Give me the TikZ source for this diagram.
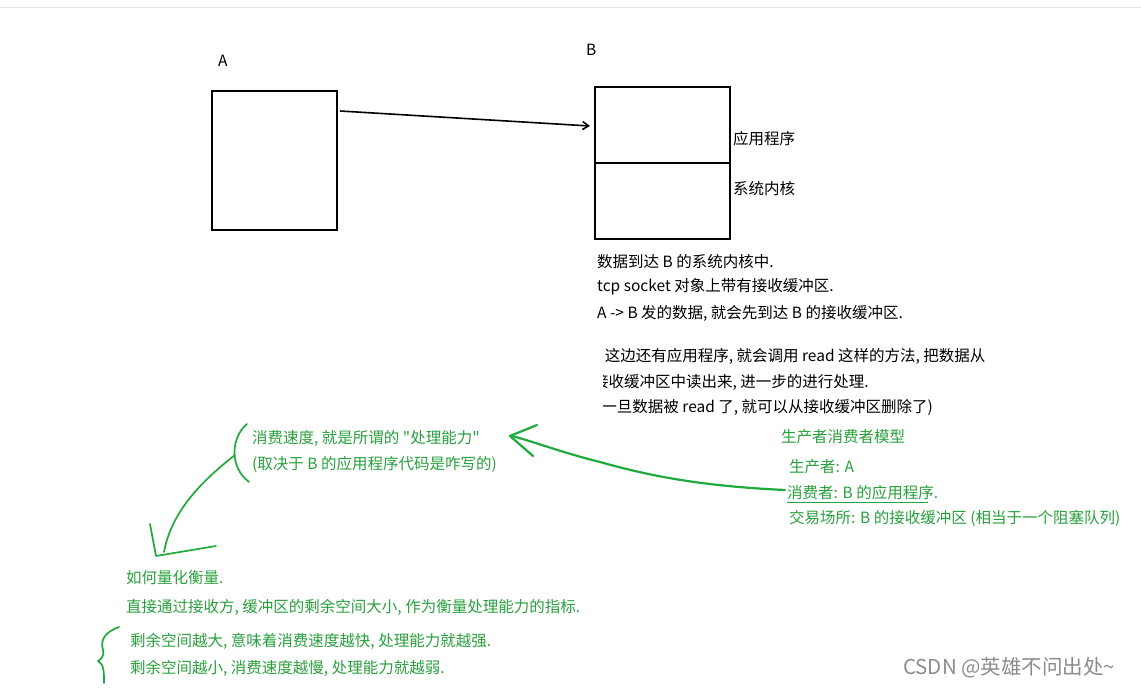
\documentclass[tikz,border=0pt]{standalone}
\usepackage{fontspec}
\setmainfont{Noto Sans CJK SC}
\usetikzlibrary{arrows.meta}
\definecolor{gr}{RGB}{30,170,60}
\definecolor{gt}{RGB}{40,160,60}
\tikzset{
 box/.style={draw,line width=1.6pt},
 bt/.style={anchor=west,inner sep=0,font=\fontsize{15.5}{17}\selectfont},
 gtx/.style={bt,text=gt},
 hand/.style={draw=gr,line width=1.7pt,line cap=round,line join=round},
}
\begin{document}
\begin{tikzpicture}[x=1pt,y=-1pt]
\useasboundingbox (0,0) rectangle (1141,690);
\draw[black!10] (0,7)--(1141,7);
\node[bt] (la) at (218,61) {A};
\node[bt] (lb) at (586,50) {B};
\node[box,minimum width=125pt,minimum height=139pt,anchor=north west] (A) at (211,90) {};
\node[box,minimum width=135pt,minimum height=76pt,anchor=north west] (B1) at (594,86) {};
\node[box,minimum width=135pt,minimum height=76pt,anchor=north west] (B2) at (594,162) {};
\coordinate (s) at (340,111);
\coordinate (e) at (590,126);
\draw[line width=1.6pt,-{Straight Barb[length=6pt,width=8pt]}] (s) -- (e);
\node[bt] (app) at (733,139) {应用程序};
\node[bt] (ker) at (733,189) {系统内核};
\node[bt] (t1) at (597,262) {数据到达 B 的系统内核中.};
\node[bt] (t2) at (597,287) {tcp socket 对象上带有接收缓冲区.};
\node[bt] (t3) at (597,313) {A -> B 发的数据, 就会先到达 B 的接收缓冲区.};
\begin{scope}
\clip (603,340) rectangle (1000,420);
\node[bt] (t4) at (591,356) {B 这边还有应用程序, 就会调用 read 这样的方法, 把数据从};
\node[bt] (t5) at (593,382) {接收缓冲区中读出来, 进一步的进行处理.};
\node[bt] (t6) at (596,407) {(一旦数据被 read 了, 就可以从接收缓冲区删除了)};
\end{scope}
\node[gtx] (g1) at (252,438) {消费速度, 就是所谓的 \textquotedbl 处理能力\textquotedbl};
\node[gtx] (g2) at (252,464) {(取决于 B 的应用程序代码是咋写的)};
\node[gtx] (p0) at (781,437) {生产者消费者模型};
\node[gtx] (p1) at (789,467) {生产者: A};
\node[gtx] (p2) at (787,493) {消费者: B 的应用程序.};
\node[gtx] (p3) at (789,518) {交易场所: B 的接收缓冲区 (相当于一个阻塞队列)};
\draw[gt,line width=0.8pt] (787,502)--(928,502);
\node[gtx] (q1) at (126,578) {如何量化衡量.};
\node[gtx] (q2) at (126,607) {直接通过接收方, 缓冲区的剩余空间大小, 作为衡量处理能力的指标.};
\node[gtx] (q3) at (130,641) {剩余空间越大, 意味着消费速度越快, 处理能力就越强.};
\node[gtx] (q4) at (130,668) {剩余空间越小, 消费速度越慢, 处理能力就越弱.};
\node[bt,text=black!45,font=\fontsize{20.5}{22}\selectfont] (wm) at (903,668) {CSDN @英雄不问出处\textasciitilde};
% hand strokes
\draw[hand,line width=2.2pt] (785,490) .. controls (700,486) and (650,476) .. (600,462) .. controls (560,452) and (535,442) .. (512,436);
\draw[hand,line width=2.2pt] (537,425) -- (510,436) -- (533,456);
\draw[hand] (247,424) .. controls (232,436) and (228,466) .. (249,482);
\draw[hand] (235,455) .. controls (190,490) and (170,520) .. (164,552);
\draw[hand] (150,524) -- (156,556) -- (216,546);
\draw[hand] (119,627) .. controls (105,632) and (100,640) .. (103,650) .. controls (105,656) and (100,660) .. (98,661) .. controls (104,664) and (104,672) .. (104,683);
\end{tikzpicture}
\end{document}
